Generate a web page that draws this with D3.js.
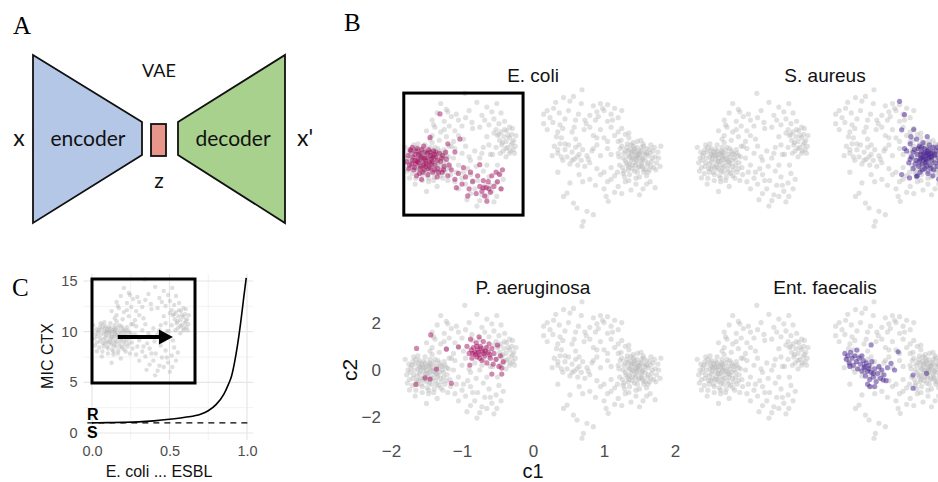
<!DOCTYPE html>
<html>
<head>
<meta charset="utf-8">
<script src="https://cdnjs.cloudflare.com/ajax/libs/d3/7.8.5/d3.min.js"></script>
<style>
  body { margin: 0; background: #fff; }
  text { font-family: "Liberation Sans", Arial, sans-serif; }
  .domain { display: none; }
</style>
</head>
<body>
<svg id="fig" width="938" height="482"></svg>
<script>
// ---- latent space (c1, c2) ----
// grey cloud, left half
var cloudLeft = [
  [-1.72,0.1],[-1.68,-0.2],[-1.66,0.25],[-1.64,-0.45],[-1.62,0.05],[-1.6,-0.15],[-1.6,0.4],[-1.58,-0.35],[-1.57,-0.6],[-1.55,0.15],
  [-1.54,-0.05],[-1.53,-0.25],[-1.52,0.3],[-1.5,-0.5],[-1.5,0.0],[-1.49,-0.75],[-1.48,-0.3],[-1.47,0.2],[-1.46,-0.1],[-1.45,0.45],
  [-1.44,-0.4],[-1.43,-0.6],[-1.42,0.1],[-1.41,-0.2],[-1.4,0.3],[-1.39,-0.8],[-1.38,-0.05],[-1.37,-0.45],[-1.36,0.15],[-1.35,-0.3],
  [-1.34,0.4],[-1.33,-0.65],[-1.32,-0.1],[-1.3,0.2],[-1.29,-0.5],[-1.28,0.0],[-1.27,-0.85],[-1.26,-0.3],[-1.25,0.35],[-1.24,-0.6],
  [-1.22,0.1],[-1.21,-0.2],[-1.2,-0.95],[-1.18,0.5],[-1.17,-0.4],[-1.16,-0.7],[-1.74,-0.4],[-1.76,0.0],[-1.7,-0.65],[-1.69,0.35],
  [-1.65,-0.85],[-1.62,0.6],[-1.56,-0.95],[-1.52,0.55],[-1.47,-1.0],[-1.42,0.65],[-1.78,-0.2],[-1.59,-0.05],[-1.51,-0.15],[-1.44,0.0],
  [-1.36,-0.15],[-1.55,-0.4],[-1.63,-0.25],[-1.46,0.3],[-1.34,0.05],
  [-1.73,-0.1],[-1.71,0.2],[-1.69,-0.35],[-1.67,0.0],[-1.65,0.45],[-1.63,-0.6],[-1.61,0.3],[-1.58,0.1],[-1.56,-0.7],[-1.54,0.35],
  [-1.52,-0.4],[-1.5,0.15],[-1.48,-0.15],[-1.46,-0.55],[-1.44,0.25],[-1.42,-0.35],[-1.4,-0.05],[-1.38,0.45],[-1.36,-0.6],[-1.34,-0.2],
  [-1.32,0.3],[-1.3,-0.35],[-1.28,0.15],[-1.26,-0.1],[-1.24,0.2],[-1.22,-0.45],[-1.19,0.05],[-1.57,0.25],[-1.61,-0.45],[-1.47,-0.85],
  [-1.4,-0.95],[-1.3,-0.75],[-1.68,0.55],[-1.75,0.25],[-1.77,-0.55],[-1.53,0.1],[-1.45,0.1],[-1.6,0.15],
  [-1.5,-1.41],[-1.74,-0.84],[-1.8,0.45],[-1.66,-1.1],[-1.35,-1.2],
  [-1.3,2.3],[-1.22,2.05],[-1.35,1.9],[-1.15,1.75],[-1.42,1.6],[-1.25,1.55],[-1.05,1.6],[-1.38,1.3],[-1.18,1.35],[-1.3,1.1],
  [-1.1,1.15],[-1.0,1.35],[-1.42,0.95],[-1.22,0.9],[-1.05,0.95],[-1.32,0.75],[-1.12,0.7],[-0.98,0.8],[-1.5,1.15],[-1.45,0.8],
  [-0.96,2.73],[-0.79,2.35],[-0.65,2.15],[-0.51,2.3],[-0.72,1.8],[-0.55,1.65],[-0.86,1.5],[-0.45,1.9],[-0.62,1.4],[-0.9,2.0],
  [-0.4,1.55],[-0.75,1.3],
  [-1.2,1.95],[-1.08,1.85],[-0.95,1.7],[-0.85,1.25],[-0.68,1.6],[-0.58,1.95],[-0.48,1.45],[-1.15,0.5],[-0.9,0.05],[-0.8,-0.35],
  [-0.72,0.2],[-0.98,-0.6],[-0.85,-0.95],[-0.6,-1.15],[-0.75,-1.8],[-1.1,-1.0],[-0.5,-0.3],[-0.62,0.55],[-1.25,1.2],[-1.4,1.4],
  [-0.65,0.9],[-0.55,1.05],
  [-0.52,1.2],[-0.45,1.1],[-0.37,1.15],[-0.3,1.0],[-0.5,0.95],[-0.41,0.9],[-0.33,0.85],[-0.27,0.75],[-0.47,0.75],[-0.38,0.7],
  [-0.31,0.55],[-0.44,0.55],[-0.36,0.45],[-0.28,0.35],[-0.42,0.3],[-0.33,0.2],[-0.25,0.5],[-0.52,0.45],[-0.38,0.05],[-0.57,0.15],
  [-0.24,0.95],[-0.29,1.25],[-0.48,1.0],[-0.4,1.2],[-0.35,0.95],[-0.29,0.65],[-0.43,0.65],[-0.38,0.4],[-0.32,0.3],[-0.26,0.2],
  [-0.46,0.2],[-0.33,1.3],
  [-1.1,0.4],[-1.0,0.2],[-0.95,0.5],[-0.88,-0.1],[-0.82,0.3],[-0.75,0.0],[-0.7,0.45],[-0.65,-0.3],[-1.05,-0.3],[-0.92,-0.45],
  [-0.6,0.15],[-1.12,0.0],
  [-1.08,-0.6],[-1.0,-0.85],[-0.95,-1.1],[-0.88,-0.7],[-0.82,-1.3],[-0.78,-0.95],[-0.72,-1.55],[-0.68,-1.15],[-0.62,-0.8],[-0.58,-1.4],
  [-0.52,-1.05],[-0.48,-0.65],[-0.45,-1.3],[-0.51,-1.62],[-0.65,-1.62],[-0.79,-2.03],[-0.93,-1.76],[-0.88,-1.5],[-1.05,-1.3],[-0.7,-0.55],
  [-0.42,-0.9],[-0.55,-1.85]
];
// grey cloud, right half
var cloudRight = [
  [1.2,0.2],[1.22,-0.3],[1.25,0.5],[1.27,0.0],[1.28,-0.55],[1.3,0.3],[1.31,-0.2],[1.33,0.6],[1.34,0.1],[1.35,-0.4],
  [1.36,-0.7],[1.37,0.35],[1.38,-0.1],[1.39,0.15],[1.4,-0.3],[1.41,0.5],[1.42,-0.05],[1.43,-0.55],[1.44,0.25],[1.45,-0.2],
  [1.46,0.05],[1.47,0.7],[1.48,-0.4],[1.49,0.3],[1.5,-0.8],[1.51,0.1],[1.52,-0.15],[1.53,0.45],[1.54,-0.35],[1.55,0.0],
  [1.56,-0.6],[1.57,0.25],[1.58,-0.1],[1.6,0.4],[1.61,-0.3],[1.62,0.1],[1.64,-0.5],[1.65,0.2],[1.67,-0.15],[1.69,0.3],
  [1.7,-0.4],[1.72,0.05],[1.74,-0.2],[1.19,-0.6],[1.24,0.75],[1.29,-0.8],[1.35,0.85],[1.45,-0.85],[1.52,0.75],[1.6,-0.75],
  [1.66,0.55],[1.76,0.25],[1.79,-0.35],[1.4,0.0],[1.46,-0.1],[1.5,0.2],[1.36,-0.25],[1.55,-0.45],[1.43,0.4],[1.58,0.15],
  [1.21,0.05],[1.23,0.4],[1.26,-0.4],[1.28,0.2],[1.3,-0.1],[1.32,0.45],[1.34,-0.5],[1.36,0.05],[1.38,0.55],[1.4,-0.45],
  [1.42,0.3],[1.44,-0.3],[1.46,0.45],[1.48,0.0],[1.5,-0.35],[1.52,0.3],[1.54,-0.05],[1.56,0.5],[1.58,-0.5],[1.6,0.2],
  [1.62,-0.2],[1.64,0.35],[1.66,-0.35],[1.68,0.0],[1.71,0.45],[1.73,-0.5],[1.34,0.3],[1.47,-0.6],[1.41,0.65],[1.55,0.6],
  [1.27,-0.65],[1.62,-0.6],[1.77,0.0],[1.39,0.25],[1.45,0.1],[1.53,-0.25],[1.33,-0.3],[1.48,0.15],
  [0.69,2.88],[0.43,2.55],[0.57,2.6],[0.29,2.1],[0.15,1.85],[0.15,1.45],[0.5,2.0],[0.64,1.85],[0.73,1.6],[0.38,1.4],
  [0.24,1.7],[0.58,1.3],[0.45,1.65],[0.68,2.3],[0.32,2.35],[0.2,1.2],[0.35,1.1],[0.55,1.1],[0.72,1.2],
  [0.2,2.0],[0.37,1.9],[0.52,2.4],[0.6,1.6],[0.42,1.25],[0.28,1.5],[0.75,1.45],[0.92,1.75],[1.12,1.6],[0.98,2.1],
  [0.85,2.2],[0.95,2.3],[1.05,2.25],[1.15,2.1],[0.9,1.95],[1.0,2.0],[1.1,1.85],[1.2,1.7],[0.88,1.6],[1.05,1.55],
  [1.25,2.0],[0.8,1.8],
  [0.8,1.3],[0.95,1.2],[1.1,1.3],[1.25,1.25],[0.85,0.95],[1.0,0.85],[1.15,0.95],[1.3,1.0],[0.9,0.55],[1.05,0.4],
  [0.95,0.1],[1.1,0.15],[1.2,0.7],[1.35,1.05],[0.9,0.85],[1.05,0.7],[1.2,1.1],[0.85,0.4],
  [0.3,0.5],[0.35,0.2],[0.38,0.6],[0.42,-0.1],[0.45,0.35],[0.48,0.05],[0.5,0.55],[0.52,-0.25],[0.55,0.25],[0.58,-0.05],
  [0.6,0.45],[0.63,-0.3],[0.65,0.15],[0.68,-0.1],[0.7,0.35],[0.73,-0.35],[0.76,0.1],[0.8,-0.2],[0.83,0.3],[0.4,0.85],
  [0.6,0.8],[0.27,0.1],[0.35,0.35],[0.45,0.6],[0.55,-0.1],[0.65,0.55],[0.78,-0.05],[0.4,0.05],[0.62,0.05],[0.33,0.9],
  [0.95,-0.7],[1.05,-1.0],[1.15,-0.75],[1.2,-1.2],[1.3,-1.0],[1.38,-1.35],[1.45,-1.1],[1.55,-1.3],[1.65,-1.0],[1.72,-1.25],
  [1.25,-1.5],[1.5,-1.55],[1.0,-1.3],[0.9,-0.45],[1.1,-0.4],[1.1,-0.9],[1.35,-0.95],[1.6,-1.1],[1.0,-0.6],[0.7,-1.0],
  [1.15,-1.45],[0.88,-1.15],[1.8,0.5],
  [0.52,-1.05],[0.48,-1.48],[0.43,-1.62],[0.57,-1.9],[0.62,-2.11],[0.76,-2.25],[0.85,-2.39],[0.71,-2.67],[0.69,-2.88],[1.03,-1.62],
  [1.06,-1.83],[0.65,-0.7],[0.8,-0.9],[0.35,-0.6]
];
// highlighted species
var ecoliPts = [
  [-1.76,0.1],[-1.74,-0.3],[-1.72,0.3],[-1.7,-0.1],[-1.68,-0.5],[-1.66,0.15],[-1.65,-0.25],[-1.63,0.4],[-1.62,-0.05],[-1.6,-0.65],
  [-1.59,0.2],[-1.58,-0.35],[-1.56,0.05],[-1.55,-0.15],[-1.54,0.5],[-1.53,-0.5],[-1.52,0.25],[-1.5,-0.25],[-1.49,0.0],[-1.48,-0.7],
  [-1.47,0.35],[-1.45,-0.4],[-1.44,0.1],[-1.42,-0.15],[-1.41,-0.6],[-1.4,0.3],[-1.38,-0.3],[-1.37,0.05],[-1.35,-0.8],[-1.34,-0.45],
  [-1.32,0.2],[-1.3,-0.15],[-1.28,-0.6],[-1.27,0.1],[-1.25,-0.35],[-1.22,-0.05],[-1.2,-0.75],[-1.18,-0.3],[-1.64,-0.75],[-1.7,0.45],
  [-1.57,-0.9],[-1.78,-0.15],[-1.61,-0.2],[-1.51,-0.1],[-1.46,-0.2],[-1.58,0.0],[-1.66,-0.1],[-1.43,-0.05],[-1.39,0.15],[-1.54,-0.3],
  [-1.75,-0.45],[-1.73,0.35],[-1.71,-0.25],[-1.69,0.05],[-1.67,-0.4],[-1.65,0.3],[-1.63,-0.15],[-1.61,0.15],[-1.59,-0.45],[-1.57,0.35],
  [-1.55,-0.6],[-1.53,0.0],[-1.51,-0.35],[-1.49,0.2],[-1.47,-0.45],[-1.45,0.25],[-1.43,-0.25],[-1.41,0.05],[-1.39,-0.5],[-1.37,0.25],
  [-1.35,-0.1],[-1.33,-0.6],[-1.29,0.0],[-1.26,-0.5],[-1.23,0.25],
  [-1.45,0.87],[-1.31,1.86],[-1.03,0.8],[-0.75,-0.28],[-1.2,0.6],[-1.1,0.25],
  [-1.15,-0.5],[-1.1,-0.9],[-1.05,-0.65],[-1.0,-1.1],[-0.98,-0.4],[-0.95,-0.8],[-0.9,-1.3],[-0.88,-0.6],[-0.85,-1.0],[-0.8,-1.5],
  [-0.78,-0.75],[-0.75,-1.2],[-0.72,-1.4],[-0.7,-0.95],[-0.68,-1.6],[-0.66,-1.25],[-0.63,-1.0],[-0.6,-1.45],[-0.58,-0.75],[-0.55,-1.2],
  [-0.52,-0.6],[-0.5,-1.0],[-0.47,-0.7],[-0.45,-1.3],[-0.43,-0.5],[-0.65,-1.82],[-0.92,-1.6],[-1.08,-1.25],[-0.7,-1.26],[-0.62,-1.3]
];
var saureusPts = [
  [1.15,0.3],[1.18,-0.2],[1.2,0.6],[1.22,0.05],[1.24,-0.45],[1.26,0.35],[1.28,-0.1],[1.29,0.8],[1.3,0.15],[1.32,-0.35],
  [1.33,0.5],[1.34,-0.6],[1.35,0.0],[1.36,0.25],[1.37,-0.25],[1.38,0.65],[1.39,-0.05],[1.4,0.4],[1.41,-0.45],[1.42,0.1],
  [1.43,-0.15],[1.44,0.3],[1.45,-0.65],[1.46,0.0],[1.47,0.55],[1.48,-0.3],[1.49,0.2],[1.5,-0.1],[1.52,0.45],[1.53,-0.5],
  [1.54,0.1],[1.55,-0.2],[1.57,0.3],[1.58,-0.35],[1.6,0.0],[1.62,0.6],[1.63,-0.55],[1.65,0.2],[1.67,-0.15],[1.7,0.4],
  [1.72,-0.3],[1.75,0.05],[1.78,-0.5],[1.8,0.3],[1.21,0.9],[1.3,-0.75],[1.44,0.9],[1.52,-0.75],[1.35,0.15],[1.41,-0.2],
  [1.46,0.15],[1.38,0.05],[1.5,0.05],[1.43,0.2],[1.33,-0.15],
  [1.2,-0.05],[1.24,0.25],[1.27,-0.25],[1.31,0.4],[1.34,-0.05],[1.37,-0.5],[1.4,0.2],[1.43,-0.35],[1.46,0.35],[1.49,-0.45],
  [1.51,0.25],[1.55,0.15],[1.58,0.45],[1.61,-0.15],[1.64,0.1],[1.68,-0.45],[1.72,0.2],[1.36,0.45],[1.42,-0.05],[1.48,0.05],
  [1.05,2.39],[1.12,1.83],[1.08,1.19],[1.08,-0.7],[1.19,-0.84],[1.29,-0.77],[1.12,0.4],[1.25,1.2],[1.6,-0.9]
];
var paerugPts = [
  [-0.93,1.0],[-0.9,0.7],[-0.88,1.3],[-0.86,0.5],[-0.84,0.95],[-0.82,0.75],[-0.8,1.15],[-0.79,0.55],[-0.78,0.85],[-0.76,1.4],
  [-0.75,0.65],[-0.74,1.0],[-0.72,0.4],[-0.71,0.8],[-0.7,1.2],[-0.68,0.6],[-0.66,0.95],[-0.65,0.3],[-0.63,0.75],[-0.62,1.1],
  [-0.6,0.5],[-0.58,0.9],[-0.56,0.25],[-0.55,0.7],[-0.52,0.45],[-0.5,1.05],[-0.48,0.15],[-0.46,0.6],[-0.44,0.08],[-0.42,0.35],
  [-0.85,0.7],[-0.77,0.75],[-0.73,0.9],[-0.69,0.7],[-0.81,0.65],[-0.87,0.85],[-0.79,1.0],[-0.75,0.5],[-0.67,0.8],[-0.61,0.65],
  [-1.44,1.48],[-1.64,0.91],[-1.22,0.88],[-1.05,0.98],[-1.36,0.04],[-1.52,-0.33],[-1.45,-0.38],[-1.65,-0.61],[-1.15,-0.56],[-0.89,0.21],
  [-0.58,-0.17],[-0.44,-0.17]
];
var faecalisPts = [
  [0.28,0.7],[0.3,0.45],[0.32,0.6],[0.34,0.3],[0.36,0.75],[0.38,0.5],[0.4,0.2],[0.42,0.6],[0.44,0.35],[0.46,0.05],
  [0.48,0.5],[0.5,0.25],[0.52,-0.05],[0.54,0.4],[0.55,0.1],[0.57,-0.25],[0.58,0.3],[0.6,-0.05],[0.62,0.2],[0.63,-0.4],
  [0.65,-0.1],[0.66,0.35],[0.68,-0.3],[0.7,0.05],[0.72,-0.5],[0.74,-0.15],[0.76,0.15],[0.78,-0.35],[0.8,0.0],[0.83,-0.2],
  [0.86,-0.45],[0.88,0.1],[0.45,0.84],[0.6,-0.6],[0.52,0.6],[0.7,-0.7],[0.35,0.15],[0.56,0.14],[0.62,0.05],[0.68,-0.15],
  [0.65,1.06],[1.03,0.77],[0.93,0.28],[1.24,-0.21],[1.43,-0.14],[1.24,-0.77],[0.82,-0.42],[0.63,-0.7],[0.98,0.0]
];
var speciesNames = ["E. coli", "S. aureus", "P. aeruginosa", "Ent. faecalis"];
var speciesColors = ["#a3105f", "#46208f", "#a3105f", "#46208f"];
var c1Ticks = [-2, -1, 0, 1, 2];
var c2Ticks = [-2, 0, 2];

// ---- panel C curve ----
var esblProb = [0, 0.1, 0.2, 0.3, 0.4, 0.5, 0.6, 0.7, 0.75, 0.8, 0.85, 0.88, 0.9, 0.92, 0.94, 0.96, 0.98, 0.995];
var micCtx   = [1.0, 1.02, 1.05, 1.1, 1.2, 1.35, 1.55, 1.85, 2.2, 2.8, 3.8, 4.8, 5.6, 7.0, 8.8, 11.0, 13.5, 15.3];
var micXTicks = [0, 0.5, 1];
var micYTicks = [0, 5, 10, 15];
var breakpoint = 1;

var svg = d3.select("#fig");

// panel letters
svg.selectAll("text.letter")
  .data([["A", 13, 34], ["B", 344, 31], ["C", 12, 296]])
  .enter().append("text")
    .attr("x", d => d[1]).attr("y", d => d[2])
    .style("font-family", "'Liberation Serif', serif")
    .style("font-size", "25px")
    .text(d => d[0]);

// ===== A: VAE sketch =====
var gA = svg.append("g");
var line = d3.line();
gA.append("path").attr("d", line([[33,55],[142,122],[142,155],[33,223]]) + "Z")
  .attr("fill", "#b4c7e7").attr("stroke", "#111").attr("stroke-width", 1.8);
gA.append("path").attr("d", line([[178,122],[285,55],[285,223],[178,155]]) + "Z")
  .attr("fill", "#a9d18e").attr("stroke", "#111").attr("stroke-width", 1.8);
gA.append("rect").attr("x", 151).attr("y", 124).attr("width", 15).attr("height", 32)
  .attr("fill", "#e8968c").attr("stroke", "#111").attr("stroke-width", 1.8);
var labA = [["VAE", 159, 77, 18], ["x", 19, 146, 23], ["encoder", 88, 146, 21],
            ["decoder", 233, 146, 21], ["x'", 305, 146, 23], ["z", 159, 188, 21]];
gA.selectAll("text.lab").data(labA).enter().append("text")
  .attr("x", d => d[1]).attr("y", d => d[2]).attr("text-anchor", "middle")
  .style("font-family", "Lato, 'Open Sans', sans-serif")
  .style("font-size", d => d[3] + "px").attr("fill", "#111")
  .text(d => d[0]);

// ===== B: latent space facets =====
var colX = [533, 825], rowY = [158, 370];
var halfW = 142, halfH = 47.4;
var ptR = 2.6;

speciesNames.forEach(function(name, i) {
  var col = i % 2, row = Math.floor(i / 2);
  var x = d3.scaleLinear().domain([-2, 2]).range([colX[col] - halfW, colX[col] + halfW]);
  var y = d3.scaleLinear().domain([-2, 2]).range([rowY[row] + halfH, rowY[row] - halfH]);
  var g = svg.append("g");

  g.append("text").attr("x", x(0)).attr("y", y(0) - 76)
    .attr("text-anchor", "middle").style("font-size", "19px").attr("fill", "#111")
    .text(name);

  g.selectAll("circle.bg").data(cloudLeft.concat(cloudRight)).enter().append("circle")
    .attr("cx", d => x(d[0])).attr("cy", d => y(d[1])).attr("r", ptR)
    .attr("fill", "#b3b3b3").attr("fill-opacity", 0.4);

  var hl = [ecoliPts, saureusPts, paerugPts, faecalisPts][i];
  g.selectAll("circle.hl").data(hl).enter().append("circle")
    .attr("cx", d => x(d[0])).attr("cy", d => y(d[1])).attr("r", ptR)
    .attr("fill", speciesColors[i]).attr("fill-opacity", 0.5);

  if (i === 0) {
    // box around the region that is reused in panel C
    g.append("rect")
      .attr("x", x(-1.82)).attr("y", y(2.74))
      .attr("width", x(-0.14) - x(-1.82)).attr("height", y(-2.41) - y(2.74))
      .attr("fill", "none").attr("stroke", "#000").attr("stroke-width", 3);
  }
  if (i === 2) {
    var xa = g.append("g").attr("transform", "translate(0," + (y(-2) + 23) + ")")
      .call(d3.axisBottom(x).tickValues(c1Ticks).tickFormat(d3.format("d")).tickSize(0).tickPadding(5));
    xa.selectAll("text").style("font-size", "17px").attr("fill", "#4d4d4d");
    var ya = g.append("g").attr("transform", "translate(" + (x(-2) - 8) + ",0)")
      .call(d3.axisLeft(y).tickValues(c2Ticks).tickFormat(d3.format("d")).tickSize(0).tickPadding(2));
    ya.selectAll("text").style("font-size", "17px").attr("fill", "#4d4d4d");
    g.append("text").attr("x", x(0)).attr("y", 478).attr("text-anchor", "middle")
      .style("font-size", "20px").attr("fill", "#111").text("c1");
    g.append("text").attr("transform", "translate(357," + y(0) + ") rotate(-90)")
      .attr("text-anchor", "middle").style("font-size", "21px").attr("fill", "#111").text("c2");
  }
});

// ===== C: MIC vs ESBL probability =====
var xC = d3.scaleLinear().domain([0, 1]).range([92, 247]);
var yC = d3.scaleLinear().domain([0, 15]).range([433, 281]);
var gC = svg.append("g");
var xLo = xC(-0.055), xHi = xC(1.04), yLo = yC(-0.7), yHi = yC(15.7);

gC.selectAll("line.vmin").data([0.25, 0.75]).enter().append("line")
  .attr("x1", d => xC(d)).attr("x2", d => xC(d)).attr("y1", yLo).attr("y2", yHi)
  .attr("stroke", "#f2f2f2").attr("stroke-width", 1);
gC.selectAll("line.hmin").data([2.5, 7.5, 12.5]).enter().append("line")
  .attr("y1", d => yC(d)).attr("y2", d => yC(d)).attr("x1", xLo).attr("x2", xHi)
  .attr("stroke", "#f2f2f2").attr("stroke-width", 1);
gC.selectAll("line.vmaj").data(micXTicks).enter().append("line")
  .attr("x1", d => xC(d)).attr("x2", d => xC(d)).attr("y1", yLo).attr("y2", yHi)
  .attr("stroke", "#e6e6e6").attr("stroke-width", 1.2);
gC.selectAll("line.hmaj").data(micYTicks).enter().append("line")
  .attr("y1", d => yC(d)).attr("y2", d => yC(d)).attr("x1", xLo).attr("x2", xHi)
  .attr("stroke", "#e6e6e6").attr("stroke-width", 1.2);

var xaC = gC.append("g").attr("transform", "translate(0," + (yLo + 1) + ")")
  .call(d3.axisBottom(xC).tickValues(micXTicks).tickFormat(d3.format(".1f")).tickSize(0).tickPadding(5));
xaC.selectAll("text").style("font-size", "14.5px").attr("fill", "#4d4d4d");
var yaC = gC.append("g").attr("transform", "translate(" + xLo + ",0)")
  .call(d3.axisLeft(yC).tickValues(micYTicks).tickSize(0).tickPadding(6));
yaC.selectAll("text").style("font-size", "14.5px").attr("fill", "#4d4d4d");

gC.append("text").attr("x", 159).attr("y", 477).attr("text-anchor", "middle")
  .style("font-size", "16px").attr("fill", "#111").text("E. coli ... ESBL");
gC.append("text").attr("transform", "translate(53,356) rotate(-90)")
  .attr("text-anchor", "middle").style("font-size", "16px").attr("fill", "#111").text("MIC CTX");

// inset: the boxed region of the E. coli facet
var xi = d3.scaleLinear().domain([-1.82, -0.14]).range([92, 195]);
var yi = d3.scaleLinear().domain([-2.41, 2.74]).range([383, 279]);
gC.selectAll("circle.in").data(cloudLeft).enter().append("circle")
  .attr("cx", d => xi(d[0])).attr("cy", d => yi(d[1])).attr("r", 2.2)
  .attr("fill", "#b3b3b3").attr("fill-opacity", 0.42);
gC.append("rect").attr("x", xi(-1.82)).attr("y", yi(2.74))
  .attr("width", xi(-0.14) - xi(-1.82)).attr("height", yi(-2.41) - yi(2.74))
  .attr("fill", "none").attr("stroke", "#000").attr("stroke-width", 3);

var arrowY = yi(-0.13);
gC.append("line").attr("x1", xi(-1.4)).attr("x2", xi(-0.6)).attr("y1", arrowY).attr("y2", arrowY)
  .attr("stroke", "#000").attr("stroke-width", 4);
gC.append("path")
  .attr("d", line([[xi(-0.5), arrowY], [xi(-0.5) - 14, arrowY - 7.5], [xi(-0.5) - 14, arrowY + 7.5]]) + "Z")
  .attr("fill", "#000");

// breakpoint and curve
gC.append("line").attr("x1", xC(-0.03)).attr("x2", xC(1.03))
  .attr("y1", yC(breakpoint)).attr("y2", yC(breakpoint))
  .attr("stroke", "#000").attr("stroke-width", 1.4).attr("stroke-dasharray", "6,5");
var curve = d3.line().x(d => xC(d[0])).y(d => yC(d[1])).curve(d3.curveMonotoneX);
gC.append("path").datum(d3.zip(esblProb, micCtx)).attr("d", curve)
  .attr("fill", "none").attr("stroke", "#000").attr("stroke-width", 1.6);

gC.append("text").attr("x", 87).attr("y", yC(breakpoint) - 3)
  .style("font-size", "16px").style("font-weight", "bold").text("R");
gC.append("text").attr("x", 87).attr("y", yC(breakpoint) + 15)
  .style("font-size", "16px").style("font-weight", "bold").text("S");
</script>
</body>
</html>
